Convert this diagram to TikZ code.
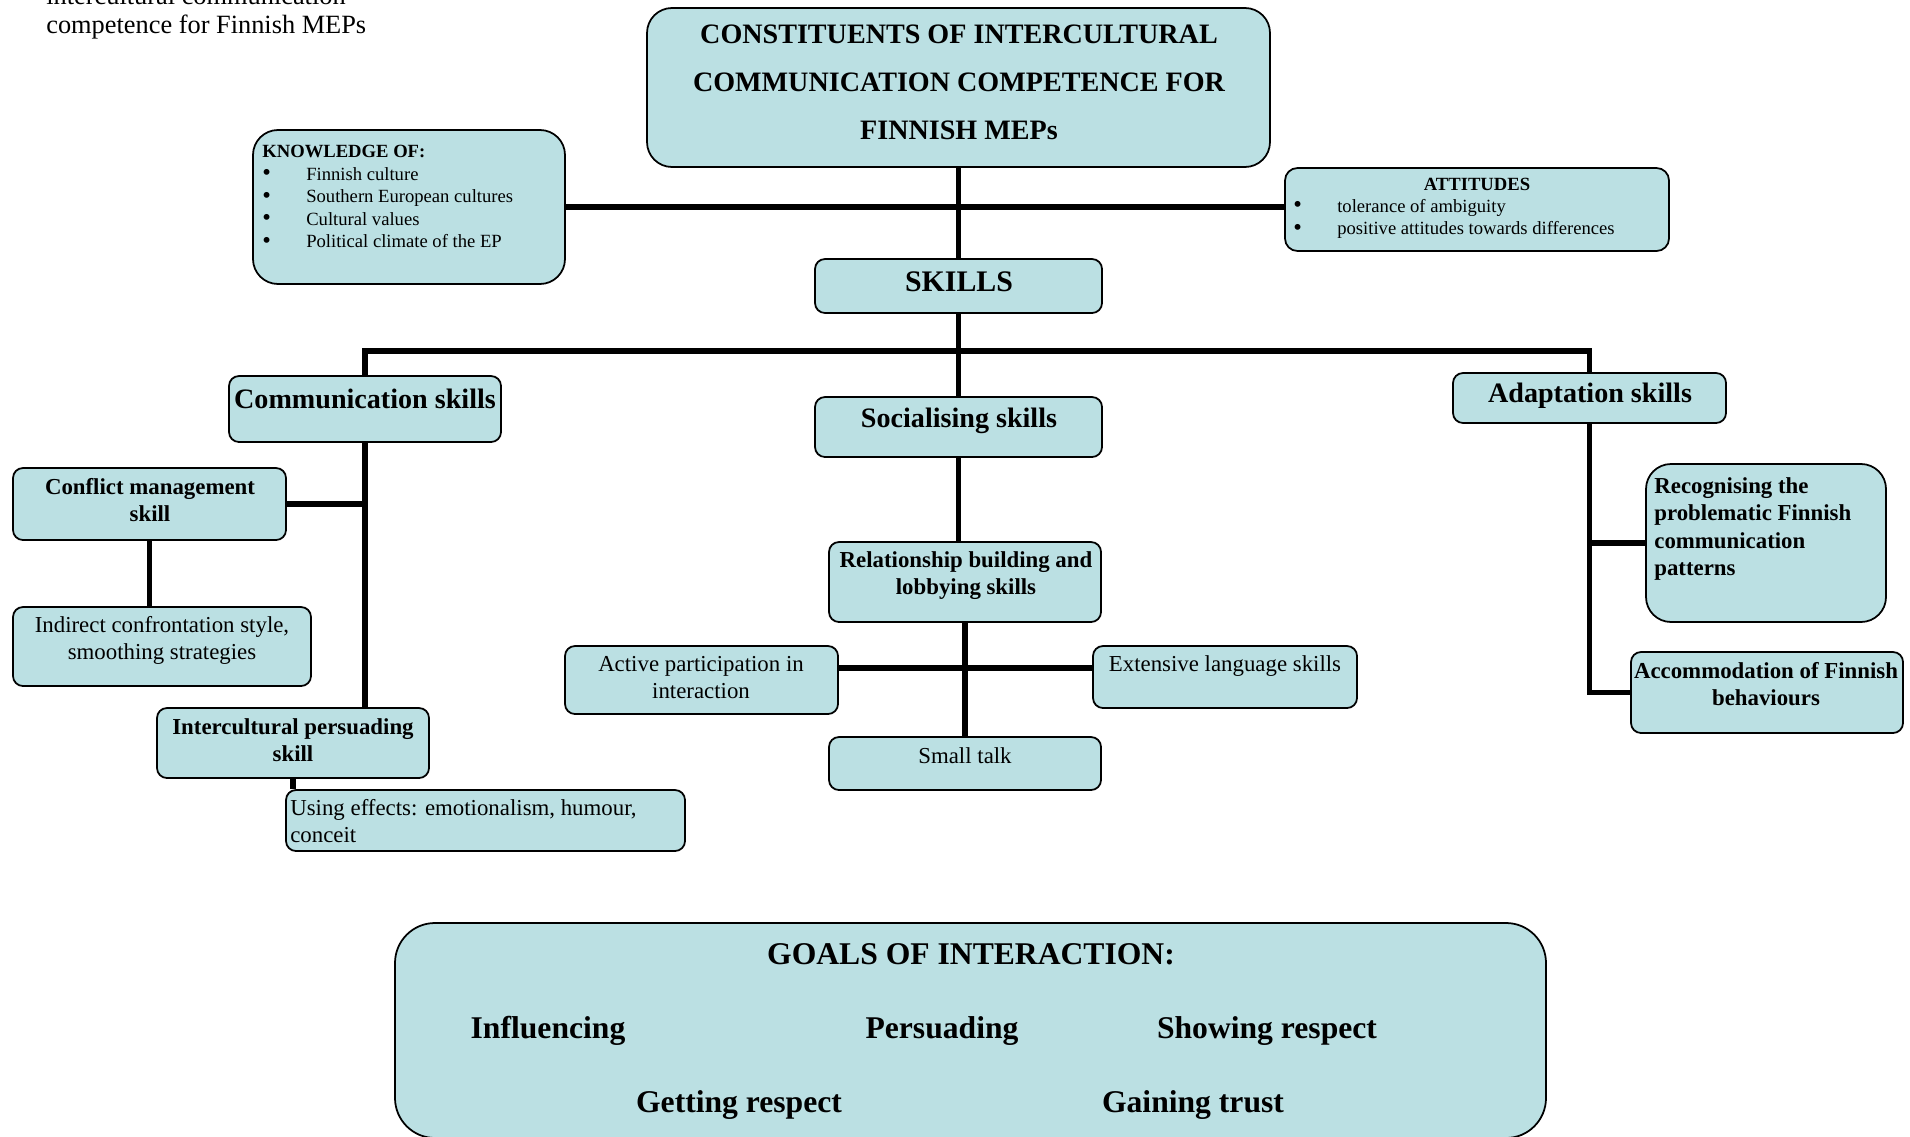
\documentclass[tikz,border=0pt]{standalone}
\usepackage{fontspec}
\setmainfont{Liberation Serif}
\usetikzlibrary{fit,positioning}
\definecolor{boxfill}{HTML}{BBE0E3}
\newcommand{\fs}[2]{\fontsize{#1}{#2}\selectfont}
\newcommand{\blt}{\makebox[25pt][l]{\raisebox{-0.3pt}{\fontsize{14}{12.8}\selectfont\textbullet}}}

\begin{document}
\begin{tikzpicture}[x=0.02cm, y=-0.02cm,
  box/.style={draw=black, line width=1pt, fill=boxfill, rounded corners=0.2cm, inner sep=0pt},
  roundbox/.style={box, rounded corners=0.5cm},
  link/.style={line width=3pt},
  txt/.style={inner sep=0pt, align=center},
  head/.style={txt, font=\fs{16}{19}\bfseries},
  sub/.style={txt, font=\fs{13}{15.4}\bfseries},
  leaf/.style={txt, font=\fs{13}{15.4}},
  goal/.style={txt, font=\fs{18}{21}\bfseries}]
  \useasboundingbox (0,0) rectangle (1910,1136);

  % caption, top line cut by the page
  \node[inner sep=0pt, anchor=base west, font=\fs{15}{17}] (cap1) at (46,4) {intercultural communication};
  \node[inner sep=0pt, anchor=base west, font=\fs{15}{17}] (cap2) at (46,33) {competence for Finnish MEPs};

  % boxes
  \node[roundbox, fit={(647,8) (1270,167)}] (title) {};
  \node[roundbox, fit={(253,130) (565,284)}] (know) {};
  \node[box, rounded corners=0.25cm, fit={(1285,168) (1669,251)}] (att) {};
  \node[box, fit={(815,259) (1102,313)}] (skills) {};
  \node[box, fit={(229,376) (501,442)}] (comm) {};
  \node[box, fit={(815,397) (1102,457)}] (social) {};
  \node[box, fit={(1453,373) (1726,423)}] (adapt) {};
  \node[box, fit={(13,468) (286,540)}] (conflict) {};
  \node[box, fit={(13,607) (311,686)}] (indirect) {};
  \node[box, fit={(157,708) (429,778)}] (persuade) {};
  \node[box, fit={(286,790) (685,851)}] (effects) {};
  \node[box, fit={(829,542) (1101,622)}] (relation) {};
  \node[box, fit={(565,646) (838,714)}] (active) {};
  \node[box, fit={(1093,646) (1357,708)}] (extensive) {};
  \node[box, fit={(829,737) (1101,790)}] (small) {};
  \node[roundbox, fit={(1646,464) (1886,622)}] (recog) {};
  \node[box, fit={(1631,652) (1903,733)}] (accom) {};
  \node[box, rounded corners=0.8cm, fit={(395,923) (1546,1138)}] (goals) {};

  % texts
  \node[txt, font=\fs{16}{27.3}\bfseries] (titletxt) at (959,82)
       {CONSTITUENTS OF INTERCULTURAL\\COMMUNICATION COMPETENCE FOR\\FINNISH MEPs};
  \node[inner sep=0pt, align=left, anchor=west, font=\fs{10.6}{12.8}] (knowtxt) at (262,197)
       {\textbf{KNOWLEDGE OF:}\\\blt Finnish culture\\\blt Southern European cultures\\
        \blt Cultural values\\\blt Political climate of the EP};
  \node[txt, font=\fs{10.6}{12.8}\bfseries] (atttitle) at (1477,184) {ATTITUDES};
  \node[inner sep=0pt, align=left, anchor=west, font=\fs{10.6}{12.8}] (attlist) at (1293,219)
       {\blt tolerance of ambiguity\\\blt positive attitudes towards differences};
  \node[txt, font=\fs{17}{20}\bfseries] (skillstxt) at (959,282) {SKILLS};
  \node[head] (commtxt) at (365,399) {Communication skills};
  \node[head] (socialtxt) at (959,421) {Socialising skills};
  \node[head] (adapttxt) at (1590,396) {Adaptation skills};
  \node[sub] (conflicttxt) at (150,500) {Conflict management\\skill};
  \node[leaf] (indirecttxt) at (162,640) {Indirect confrontation style,\\smoothing strategies};
  \node[sub] (persuadetxt) at (293,740) {Intercultural persuading\\skill};
  \node[inner sep=0pt, align=left, anchor=west, font=\fs{13}{15.4}] (effectstxt) at (290,821)
       {Using effects: emotionalism, humour,\\conceit};
  \node[sub] (relationtxt) at (966,576) {Relationship building and\\lobbying skills};
  \node[leaf] (activetxt) at (701,678) {Active participation in\\interaction};
  \node[leaf] (extensivetxt) at (1225,666) {Extensive language skills};
  \node[leaf] (smalltxt) at (965,756) {Small talk};
  \node[inner sep=0pt, align=left, anchor=west, font=\fs{13}{15.4}\bfseries] (recogtxt) at (1654,529)
       {Recognising the\\problematic Finnish\\communication\\patterns};
  \node[sub] (accomtxt) at (1766,684) {Accommodation of Finnish\\behaviours};

  \node[goal] (goalstxt) at (971,954) {GOALS OF INTERACTION:};
  \node[goal] (g1) at (548,1031) {Influencing};
  \node[goal] (g2) at (942,1031) {Persuading};
  \node[goal] (g3) at (1267,1031) {Showing respect};
  \node[goal] (g4) at (739,1105) {Getting respect};
  \node[goal] (g5) at (1193,1105) {Gaining trust};

  % connectors
  \coordinate (bar) at (959,351);
  \coordinate (hub) at (966,668);
  \draw[link] (title.south) -- (skills.north);
  \draw[link] (know.east) -- (know.east -| att.west);
  \draw[link] (skills.south) -- (social.north);
  \draw[link] (comm.north) -- (comm.north |- bar) -- (adapt.north |- bar) -- (adapt.north);
  \draw[link] (comm.south) -- (comm.south |- persuade.north);
  \draw[link] (conflict.east) -- (conflict.east -| comm.south);
  \draw[link] (conflict.south) -- (conflict.south |- indirect.north);
  \draw[link] (persuade.south) -- (persuade.south |- effects.north);
  \draw[link] (social.south) -- (social.south |- relation.north);
  \draw[link] (relation.south) -- (small.north);
  \draw[link] (active.east |- hub) -- (extensive.west |- hub);
  \draw[link] (adapt.south) -- (adapt.south |- accom.west) -- (accom.west);
  \draw[link] (adapt.south |- recog.west) -- (recog.west);
\end{tikzpicture}
\end{document}
